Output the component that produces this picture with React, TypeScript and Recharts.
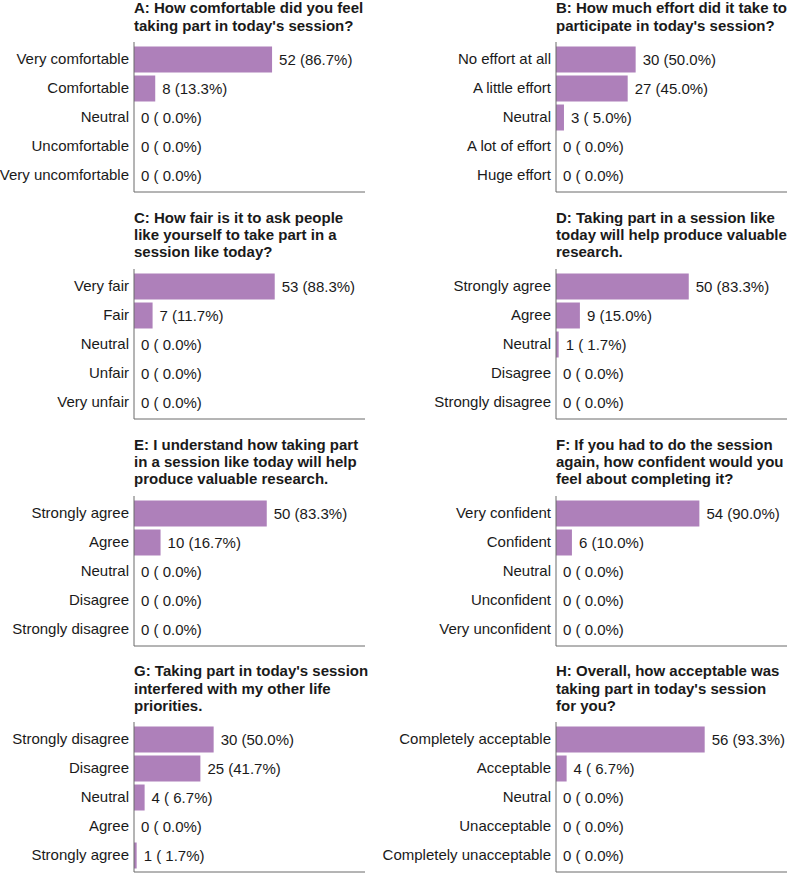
import React from 'react';
import { BarChart, Bar, XAxis, YAxis, LabelList } from 'recharts';

// respondents per question
const TOTAL = 60;

const titleA = ['A: How comfortable did you feel', "taking part in today's session?"];
const catsA = ['Very comfortable', 'Comfortable', 'Neutral', 'Uncomfortable', 'Very uncomfortable'];
const countsA = [52, 8, 0, 0, 0];

const titleB = ['B: How much effort did it take to', "participate in today's session?"];
const catsB = ['No effort at all', 'A little effort', 'Neutral', 'A lot of effort', 'Huge effort'];
const countsB = [30, 27, 3, 0, 0];

const titleC = ['C: How fair is it to ask people', 'like yourself to take part in a', 'session like today?'];
const catsC = ['Very fair', 'Fair', 'Neutral', 'Unfair', 'Very unfair'];
const countsC = [53, 7, 0, 0, 0];

const titleD = ['D: Taking part in a session like', 'today will help produce valuable', 'research.'];
const catsD = ['Strongly agree', 'Agree', 'Neutral', 'Disagree', 'Strongly disagree'];
const countsD = [50, 9, 1, 0, 0];

const titleE = ['E: I understand how taking part', 'in a session like today will help', 'produce valuable research.'];
const catsE = ['Strongly agree', 'Agree', 'Neutral', 'Disagree', 'Strongly disagree'];
const countsE = [50, 10, 0, 0, 0];

const titleF = ['F: If you had to do the session', 'again, how confident would you', 'feel about completing it?'];
const catsF = ['Very confident', 'Confident', 'Neutral', 'Unconfident', 'Very unconfident'];
const countsF = [54, 6, 0, 0, 0];

const titleG = ["G: Taking part in today's session", 'interfered with my other life', 'priorities.'];
const catsG = ['Strongly disagree', 'Disagree', 'Neutral', 'Agree', 'Strongly agree'];
const countsG = [30, 25, 4, 0, 1];

const titleH = ['H: Overall, how acceptable was', "taking part in today's session", 'for you?'];
const catsH = ['Completely acceptable', 'Acceptable', 'Neutral', 'Unacceptable', 'Completely unacceptable'];
const countsH = [56, 4, 0, 0, 0];

const ROW_H = 226.8;
const PLOT_W = 231;
const LINE_H = 17.3;
const BAR_COLOR = '#ae80ba';
const AXIS_COLOR = '#6b6b6b';
const TEXT_COLOR = '#1a1a1a';
const FONT = '"Liberation Sans", Arial, Helvetica, sans-serif';

const fmtCount = (v: any) => {
  const n = Number(v);
  const pct = ((n / TOTAL) * 100).toFixed(1).padStart(4, ' ');
  return `${n} (${pct}%)`;
};

const CatTick = (props: any) => {
  const { x, y, payload } = props;
  return (
    <text x={x} y={y} dy="0.35em" textAnchor="end" fill={TEXT_COLOR} fontSize={15}>
      {payload.value}
    </text>
  );
};

type PanelProps = {
  title: string[];
  cats: string[];
  counts: number[];
  col: number;
  row: number;
};

const Panel = ({ title, cats, counts, col, row }: PanelProps) => {
  const top = row * ROW_H;
  const chartLeft = col === 0 ? 0 : 370;
  const yw = col === 0 ? 134 : 186;
  const axisX = chartLeft + yw;
  const data = cats.map((name, i) => ({ name, count: counts[i] }));
  const titleTop = top + 16.65 - (title.length - 1) * LINE_H;

  return (
    <>
      <div
        style={{
          position: 'absolute',
          left: axisX,
          top: titleTop,
          fontWeight: 'bold',
          fontSize: 15,
          lineHeight: `${LINE_H}px`,
          color: TEXT_COLOR,
          whiteSpace: 'nowrap',
        }}
      >
        {title.map((t) => (
          <div key={t}>{t}</div>
        ))}
      </div>
      <div style={{ position: 'absolute', left: chartLeft, top: top + 41 }}>
        <BarChart
          width={yw + PLOT_W}
          height={152}
          data={data}
          layout="vertical"
          margin={{ top: 1, right: 0, bottom: 0, left: 0 }}
        >
          <XAxis
            type="number"
            domain={[0, 87]}
            height={1}
            tick={false}
            tickLine={false}
            axisLine={{ stroke: AXIS_COLOR }}
          />
          <YAxis
            type="category"
            dataKey="name"
            width={yw}
            interval={0}
            tickLine={false}
            tickSize={0}
            tickMargin={5}
            padding={{ top: 2.5, bottom: 2.5 }}
            axisLine={{ stroke: AXIS_COLOR }}
            tick={(p: any) => <CatTick {...p} />}
          />
          {/* tiny minPointSize keeps zero rows so their labels still render */}
          <Bar
            dataKey="count"
            fill={BAR_COLOR}
            barSize={26}
            minPointSize={0.01}
            isAnimationActive={false}
          >
            <LabelList
              dataKey="count"
              position="right"
              offset={7}
              formatter={fmtCount}
              fill={TEXT_COLOR}
              fontSize={15}
            />
          </Bar>
        </BarChart>
      </div>
    </>
  );
};

export default function App() {
  return (
    <div
      style={{
        position: 'absolute',
        left: 0,
        top: 0,
        width: 787,
        height: 873,
        background: '#ffffff',
        fontFamily: FONT,
        overflow: 'hidden',
      }}
    >
      <Panel title={titleA} cats={catsA} counts={countsA} col={0} row={0} />
      <Panel title={titleB} cats={catsB} counts={countsB} col={1} row={0} />
      <Panel title={titleC} cats={catsC} counts={countsC} col={0} row={1} />
      <Panel title={titleD} cats={catsD} counts={countsD} col={1} row={1} />
      <Panel title={titleE} cats={catsE} counts={countsE} col={0} row={2} />
      <Panel title={titleF} cats={catsF} counts={countsF} col={1} row={2} />
      <Panel title={titleG} cats={catsG} counts={countsG} col={0} row={3} />
      <Panel title={titleH} cats={catsH} counts={countsH} col={1} row={3} />
    </div>
  );
}
